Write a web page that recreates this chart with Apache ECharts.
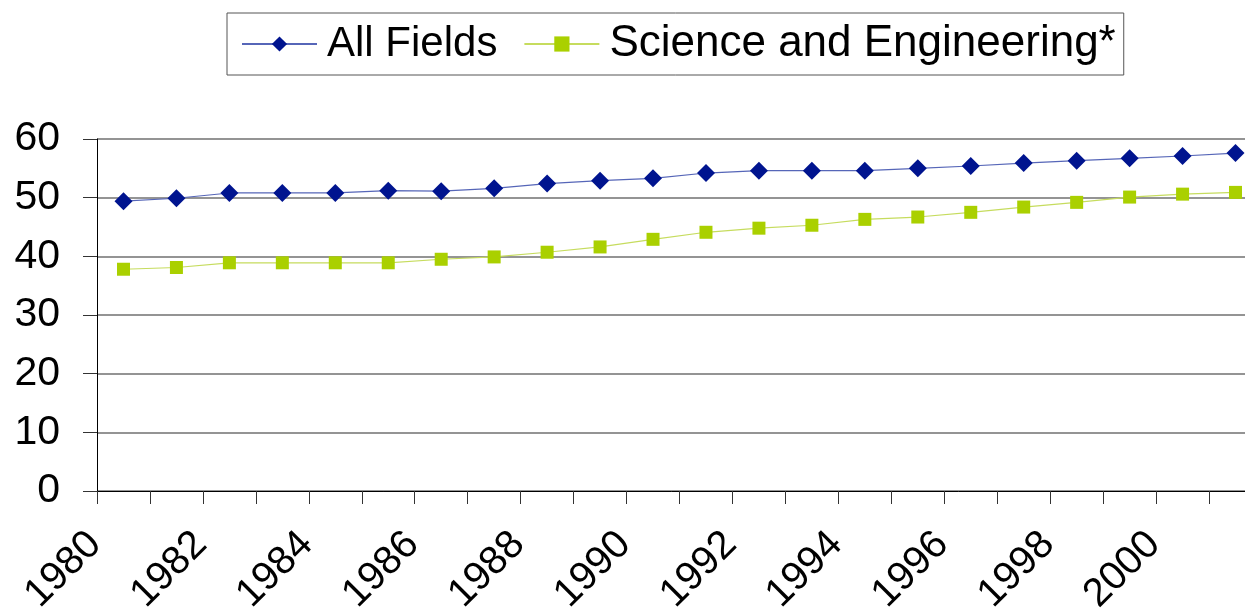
<!DOCTYPE html>
<html>
<head>
<meta charset="utf-8">
<script src="https://cdn.jsdelivr.net/npm/echarts@6/dist/echarts.min.js"></script>
<style>
  html, body { margin: 0; padding: 0; background: #ffffff; }
  #chart { width: 1245px; height: 610px; }
</style>
</head>
<body>
<div id="chart"></div>
<script>
// Years on the category axis, one per point
const years = ['1980','1981','1982','1983','1984','1985','1986','1987','1988','1989','1990',
               '1991','1992','1993','1994','1995','1996','1997','1998','1999','2000','2001'];

// Series values (percent)
const allFields = [49.4, 49.9, 50.8, 50.8, 50.8, 51.2, 51.1, 51.6, 52.4, 52.9, 53.3,
                   54.2, 54.6, 54.6, 54.6, 55.0, 55.4, 55.9, 56.3, 56.7, 57.1, 57.6];
const sciEng    = [37.8, 38.1, 38.9, 38.9, 38.9, 38.9, 39.5, 39.9, 40.7, 41.6, 42.9,
                   44.1, 44.8, 45.3, 46.3, 46.7, 47.5, 48.4, 49.2, 50.1, 50.6, 50.9];

// Year labels written at every second category boundary
const yearTickLabels = ['1980','1982','1984','1986','1988','1990','1992','1994','1996','1998','2000'];

const FONT = 'Liberation Sans, Arial, sans-serif';

const chart = echarts.init(document.getElementById('chart'), null, { renderer: 'canvas' });

chart.setOption({
  animation: false,
  backgroundColor: '#ffffff',
  textStyle: { fontFamily: FONT, color: '#000' },
  legend: {
    left: 227,
    top: 13,
    padding: [9, 8, 9, 14],
    itemGap: 26,
    itemWidth: 75,
    itemHeight: 19,
    borderColor: '#555555',
    borderWidth: 1,
    textStyle: { fontFamily: FONT, fontSize: 42, color: '#000', padding: [0, 0, 0, 5] },
    data: [
      { name: 'All Fields' },
      { name: 'Science and Engineering*', textStyle: { fontSize: 44 } }
    ]
  },
  grid: { left: 97, top: 139, width: 1165, height: 352, outerBoundsMode: 'none', containLabel: false },
  xAxis: [
    {
      type: 'category',
      data: years,
      boundaryGap: true,
      position: 'bottom',
      axisLine: { show: true, lineStyle: { color: '#000', width: 1 } },
      axisTick: { show: true, interval: 0, alignWithLabel: false, length: 13, lineStyle: { color: '#333' } },
      axisLabel: { show: false },
      splitLine: { show: false }
    },
    {
      // label-only axis placing year text on the category boundaries
      type: 'value',
      min: 0,
      max: 22,
      interval: 2,
      position: 'bottom',
      axisLine: { show: false },
      axisTick: { show: false },
      splitLine: { show: false },
      axisLabel: {
        show: true,
        rotate: 45,
        margin: 45,
        padding: [0, 3, 0, 0],
        fontFamily: FONT,
        fontSize: 40,
        color: '#000',
        showMinLabel: true,
        showMaxLabel: true,
        formatter: function (v) {
          const k = Math.round(v / 2);
          return yearTickLabels[k] !== undefined ? yearTickLabels[k] : '';
        }
      }
    }
  ],
  yAxis: {
    type: 'value',
    min: 0,
    max: 60,
    interval: 10,
    axisLine: { show: true, lineStyle: { color: '#000', width: 1 } },
    axisTick: { show: true, length: 14, lineStyle: { color: '#333' } },
    axisLabel: { fontFamily: FONT, fontSize: 41, color: '#000', margin: 37 },
    splitLine: { show: true, lineStyle: { color: '#707070', width: 1.5 } }
  },
  series: [
    {
      name: 'All Fields',
      type: 'line',
      xAxisIndex: 0,
      data: allFields,
      symbol: 'diamond',
      symbolSize: 18,
      showAllSymbol: true,
      lineStyle: { color: '#5666b8', width: 1.2 },
      itemStyle: { color: '#00148f', borderWidth: 0 },
      z: 3
    },
    {
      name: 'Science and Engineering*',
      type: 'line',
      xAxisIndex: 0,
      data: sciEng,
      symbol: 'rect',
      symbolSize: 13,
      showAllSymbol: true,
      lineStyle: { color: '#c6dc5e', width: 1.2 },
      itemStyle: { color: '#aad000', borderWidth: 0 },
      z: 2
    }
  ]
});
</script>
</body>
</html>
